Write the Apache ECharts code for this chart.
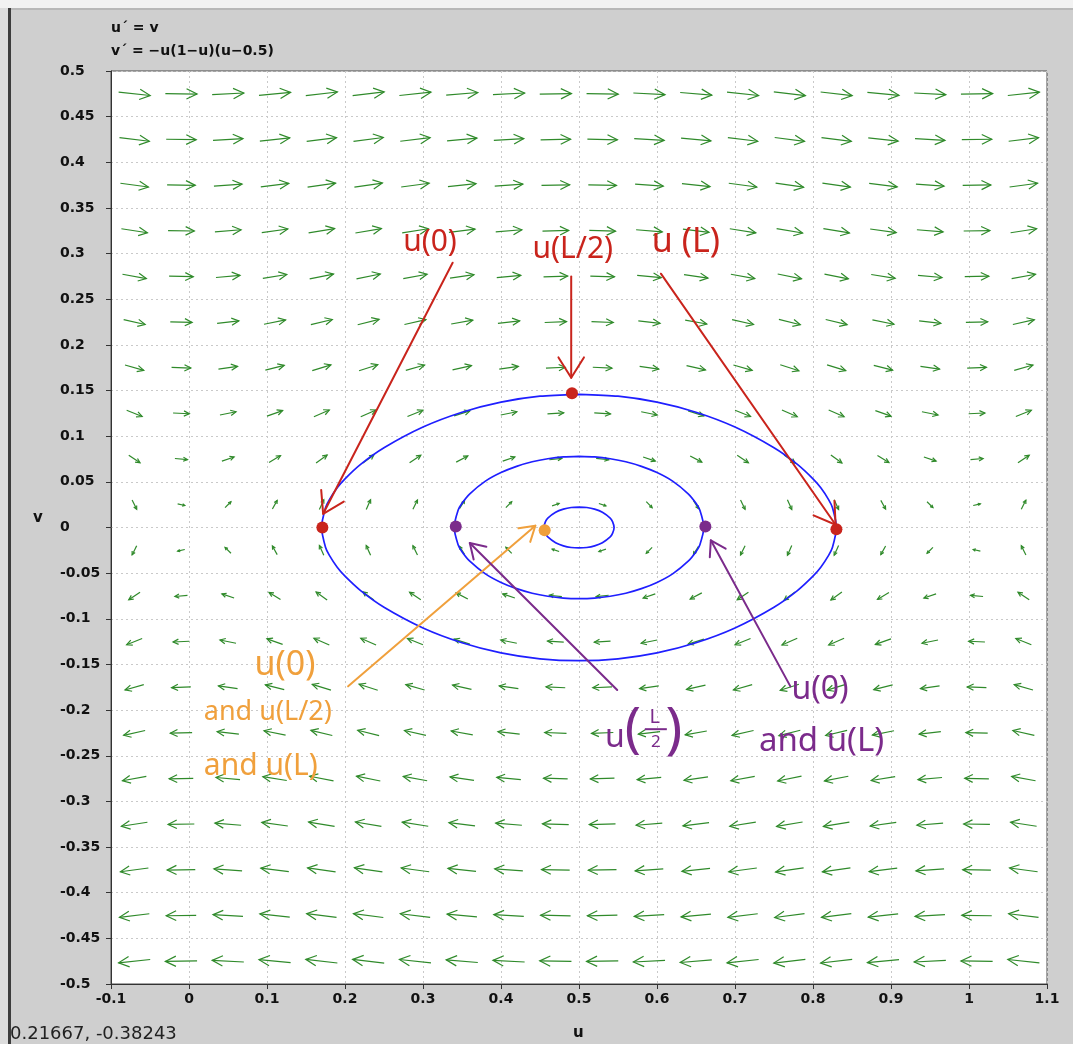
<!DOCTYPE html>
<html>
<head>
<meta charset="utf-8">
<script src="https://cdn.jsdelivr.net/npm/echarts@6/dist/echarts.min.js"></script>
<style>
  html, body { margin: 0; padding: 0; background: #cfcfcf; }
  #chart { width: 1073px; height: 1044px; }
</style>
</head>
<body>
<div id="chart"></div>
<script>
// ---- Axis ticks ----
const uTicks = [-0.1, 0, 0.1, 0.2, 0.3, 0.4, 0.5, 0.6, 0.7, 0.8, 0.9, 1, 1.1];
const vTicks = [-0.5, -0.45, -0.4, -0.35, -0.3, -0.25, -0.2, -0.15, -0.1, -0.05, 0,
                0.05, 0.1, 0.15, 0.2, 0.25, 0.3, 0.35, 0.4, 0.45, 0.5];

// ---- Direction-field sample grid ----
const fieldU = [-0.07, -0.01, 0.05, 0.11, 0.17, 0.23, 0.29, 0.35, 0.41, 0.47,
                0.53, 0.59, 0.65, 0.71, 0.77, 0.83, 0.89, 0.95, 1.01, 1.07];
const fieldV = [0.475, 0.425, 0.375, 0.325, 0.275, 0.225, 0.175, 0.125, 0.075, 0.025,
                -0.025, -0.075, -0.125, -0.175, -0.225, -0.275, -0.325, -0.375, -0.425, -0.475];

// The system shown in the header: u' = v, v' = -u(1-u)(u-0.5)
function rate(u, v) {
  return [v, -u * (1 - u) * (u - 0.5)];
}

// ---- Closed orbits: upper halves (u, v); lower halves are their mirror in v ----
const outerU = [0.17, 0.175, 0.18, 0.19, 0.20, 0.22, 0.25, 0.30, 0.35, 0.40, 0.45, 0.50,
                0.55, 0.60, 0.65, 0.70, 0.75, 0.78, 0.80, 0.81, 0.82, 0.825, 0.83];
const outerV = [0, 0.0216, 0.0306, 0.0435, 0.0533, 0.0691, 0.0873, 0.110, 0.1262, 0.1373, 0.1438, 0.1459,
                0.1438, 0.1373, 0.1262, 0.110, 0.0873, 0.0691, 0.0533, 0.0435, 0.0306, 0.0216, 0];
const middleU = [0.34, 0.345, 0.35, 0.36, 0.38, 0.40, 0.42, 0.44, 0.46, 0.48, 0.50,
                 0.52, 0.54, 0.56, 0.58, 0.60, 0.62, 0.64, 0.65, 0.655, 0.66];
const middleV = [0, 0.0188, 0.0265, 0.0369, 0.0508, 0.0602, 0.0670, 0.0720, 0.0753, 0.0773, 0.0779,
                 0.0773, 0.0753, 0.0720, 0.0670, 0.0602, 0.0508, 0.0369, 0.0265, 0.0188, 0];
const innerU = [0.455, 0.457, 0.46, 0.47, 0.48, 0.49, 0.50, 0.51, 0.52, 0.53, 0.54, 0.543, 0.545];
const innerV = [0, 0.0065, 0.0103, 0.0167, 0.0201, 0.0219, 0.0224, 0.0219, 0.0201, 0.0167, 0.0103, 0.0065, 0];

// ---- Hand-drawn annotations (data coordinates) ----
const redDots = [[0.171, 0.0], [0.491, 0.147], [0.83, -0.002]];
const purpleDots = [[0.342, 0.001], [0.662, 0.001]];
const orangeDots = [[0.456, -0.003]];

const redArrows = [[0.338, 0.290, 0.172, 0.015], [0.490, 0.275, 0.490, 0.164], [0.605, 0.278, 0.829, 0.003]];
const orangeArrows = [[0.204, -0.174, 0.444, 0.002]];
const purpleArrows = [[0.549, -0.178, 0.360, -0.017], [0.771, -0.174, 0.669, -0.014]];

const redLabels = [[0.309, 0.312, 'u(0)'], [0.492, 0.304, 'u(L/2)'], [0.637, 0.312, 'u (L)']];
const orangeLabels = [[0.123, -0.151, 'u(0)'], [0.101, -0.202, 'and u(L/2)'], [0.092, -0.262, 'and u(L)']];
const purpleLabels = [[0.809, -0.178, 'u(0)'], [0.811, -0.235, 'and u(L)']];
const purpleFraction = [[0.578, -0.222, 'u', 'L', '2']];

// ---- Styles ----
const GREEN = '#2f8a2a';
const BLUE = '#1f1fff';
const RED = '#c9241c';
const ORANGE = '#f0a03c';
const PURPLE = '#7b2b8b';
const HAND_FONT = '"Noto Sans", "DejaVu Sans", sans-serif';
const UI_FONT = '"DejaVu Sans", sans-serif';
const redLabelSize = [30, 30, 34];
const orangeLabelSize = [34, 27, 30];
const purpleLabelSize = [32, 33];

function fmtTick(val) {
  return String(+val.toFixed(2));
}

function renderFieldArrow(params, api) {
  const u = api.value(0), v = api.value(1);
  const d = rate(u, v);
  const mag = Math.hypot(d[0], d[1]);
  const p0 = api.coord([u, v]);
  const p1 = api.coord([u + d[0] * 1e-3, v + d[1] * 1e-3]);
  let dx = p1[0] - p0[0], dy = p1[1] - p0[1];
  const n = Math.hypot(dx, dy) || 1;
  dx /= n; dy /= n;
  const len = 46 * Math.sqrt(mag);
  const tail = [p0[0] - dx * len / 2, p0[1] - dy * len / 2];
  const tip = [p0[0] + dx * len / 2, p0[1] + dy * len / 2];
  const h = len * 0.37, a = 26 * Math.PI / 180;
  const c = Math.cos(a), s = Math.sin(a);
  const b1 = [tip[0] - h * (dx * c - dy * s), tip[1] - h * (dy * c + dx * s)];
  const b2 = [tip[0] - h * (dx * c + dy * s), tip[1] - h * (dy * c - dx * s)];
  const st = { stroke: GREEN, lineWidth: 1.2, fill: null };
  return {
    type: 'group',
    children: [
      { type: 'polyline', shape: { points: [tail, tip] }, style: st },
      { type: 'polyline', shape: { points: [b1, tip, b2] }, style: st }
    ]
  };
}

function orbitLoop(us, vs) {
  // upper half left -> right, then lower half right -> left, starting from the top
  const pts = [];
  for (let i = 0; i < us.length; i++) pts.push([us[i], vs[i]]);
  for (let i = us.length - 2; i >= 1; i--) pts.push([us[i], -vs[i]]);
  let top = 0;
  pts.forEach((p, i) => { if (p[1] > pts[top][1]) top = i; });
  const loop = pts.slice(top).concat(pts.slice(0, top));
  loop.push(loop[0]);
  return loop;
}

function orbitSeries(us, vs) {
  return {
    type: 'line',
    data: orbitLoop(us, vs),
    showSymbol: false,
    smooth: 0.25,
    lineStyle: { color: BLUE, width: 1.7 },
    z: 3,
    silent: true
  };
}

function arrowSeries(list, color, headLen) {
  return {
    type: 'custom',
    data: list,
    z: 8,
    silent: true,
    renderItem: function (params, api) {
      const p = api.coord([api.value(0), api.value(1)]);
      const q = api.coord([api.value(2), api.value(3)]);
      let dx = q[0] - p[0], dy = q[1] - p[1];
      const n = Math.hypot(dx, dy) || 1;
      dx /= n; dy /= n;
      const a = 32 * Math.PI / 180, c = Math.cos(a), s = Math.sin(a);
      const b1 = [q[0] - headLen * (dx * c - dy * s), q[1] - headLen * (dy * c + dx * s)];
      const b2 = [q[0] - headLen * (dx * c + dy * s), q[1] - headLen * (dy * c - dx * s)];
      const st = { stroke: color, lineWidth: 2, fill: null, lineCap: 'round', lineJoin: 'round' };
      return {
        type: 'group',
        children: [
          { type: 'polyline', shape: { points: [p, q] }, style: st },
          { type: 'polyline', shape: { points: [b1, q, b2] }, style: st }
        ]
      };
    }
  };
}

function labelSeries(list, color, sizes) {
  return {
    type: 'custom',
    data: list.map(d => [d[0], d[1]]),
    z: 9,
    silent: true,
    renderItem: function (params, api) {
      const item = list[params.dataIndex];
      const p = api.coord([item[0], item[1]]);
      return {
        type: 'text',
        x: p[0], y: p[1],
        style: {
          text: item[2], fill: color,
          font: sizes[params.dataIndex] + 'px ' + HAND_FONT,
          align: 'center', verticalAlign: 'middle'
        }
      };
    }
  };
}

function fractionSeries(list, color) {
  return {
    type: 'custom',
    data: list.map(d => [d[0], d[1]]),
    z: 9,
    silent: true,
    renderItem: function (params, api) {
      const item = list[params.dataIndex];
      const p = api.coord([item[0], item[1]]);
      const x = p[0], y = p[1];
      const t = (txt, ox, oy, size) => ({
        type: 'text', x: x + ox, y: y + oy,
        style: { text: txt, fill: color, font: size + 'px ' + HAND_FONT, align: 'center', verticalAlign: 'middle' }
      });
      return {
        type: 'group',
        children: [
          t(item[2], -25, 8, 32),
          t('(', -7, 0, 54),
          t(item[3], 15, -13, 20),
          { type: 'line', shape: { x1: x + 5, y1: y - 1, x2: x + 27, y2: y - 1 }, style: { stroke: color, lineWidth: 2 } },
          t(item[4], 16, 12, 17),
          t(')', 34, 2, 56)
        ]
      };
    }
  };
}

function dotSeries(list, color) {
  return {
    type: 'scatter',
    data: list,
    symbolSize: 12,
    itemStyle: { color: color, opacity: 1 },
    z: 10,
    silent: true
  };
}

const fieldData = [];
fieldV.forEach(v => fieldU.forEach(u => fieldData.push([u, v])));

const chart = echarts.init(document.getElementById('chart'), null, { renderer: 'canvas' });

chart.setOption({
  backgroundColor: '#cfcfcf',
  animation: false,
  grid: {
    left: 111, top: 71, width: 936, height: 913,
    show: true, backgroundColor: '#ffffff', borderColor: '#4a4a4a', borderWidth: 1
  },
  xAxis: {
    type: 'value',
    min: uTicks[0], max: uTicks[uTicks.length - 1], interval: 0.1,
    axisLine: { onZero: false, lineStyle: { color: '#333', width: 1 } },
    axisTick: { show: true, length: 5, lineStyle: { color: '#333' } },
    splitLine: { show: true, lineStyle: { color: '#c9c9c9', type: [2, 3], width: 1 } },
    axisLabel: {
      margin: 8, color: '#111', fontSize: 14, fontWeight: 'bold',
      fontFamily: UI_FONT,
      formatter: fmtTick
    }
  },
  yAxis: {
    type: 'value',
    min: vTicks[0], max: vTicks[vTicks.length - 1], interval: 0.05,
    axisLine: { onZero: false, lineStyle: { color: '#333', width: 1 } },
    axisTick: { show: true, length: 5, lineStyle: { color: '#333' } },
    splitLine: { show: true, lineStyle: { color: '#c9c9c9', type: [2, 3], width: 1 } },
    axisLabel: {
      margin: 51, align: 'left', color: '#111', fontSize: 14, fontWeight: 'bold',
      fontFamily: UI_FONT,
      formatter: fmtTick
    }
  },
  graphic: [
    { type: 'rect', left: 0, top: 0, shape: { width: 1073, height: 8 }, style: { fill: '#f2f2f2' }, silent: true },
    { type: 'rect', left: 0, top: 8, shape: { width: 1073, height: 2 }, style: { fill: '#b8b8b8' }, silent: true },
    { type: 'rect', left: 0, top: 8, shape: { width: 8, height: 1036 }, style: { fill: '#dcdcdc' }, silent: true },
    { type: 'rect', left: 8, top: 8, shape: { width: 3, height: 1036 }, style: { fill: '#3c3c3c' }, silent: true },
    {
      type: 'text', left: 111, top: 21,
      style: { text: 'u\u00b4 = v', fill: '#111', font: 'bold 14px ' + UI_FONT }
    },
    {
      type: 'text', left: 111, top: 44,
      style: { text: 'v\u00b4 = \u2212u(1\u2212u)(u\u22120.5)', fill: '#111', font: 'bold 14px ' + UI_FONT }
    },
    {
      type: 'text', left: 573, top: 1026,
      style: { text: 'u', fill: '#111', font: 'bold 15px ' + UI_FONT }
    },
    {
      type: 'text', left: 33, top: 511,
      style: { text: 'v', fill: '#111', font: 'bold 15px ' + UI_FONT }
    },
    {
      type: 'text', left: 10, top: 1025,
      style: { text: '0.21667, -0.38243', fill: '#222', font: '18px ' + UI_FONT }
    }
  ],
  series: [
    {
      type: 'custom',
      data: fieldData,
      renderItem: renderFieldArrow,
      z: 2,
      silent: true
    },
    orbitSeries(outerU, outerV),
    orbitSeries(middleU, middleV),
    orbitSeries(innerU, innerV),
    arrowSeries(redArrows, RED, 24),
    arrowSeries(orangeArrows, ORANGE, 17),
    arrowSeries(purpleArrows, PURPLE, 17),
    labelSeries(redLabels, RED, redLabelSize),
    labelSeries(orangeLabels, ORANGE, orangeLabelSize),
    labelSeries(purpleLabels, PURPLE, purpleLabelSize),
    fractionSeries(purpleFraction, PURPLE),
    dotSeries(redDots, RED),
    dotSeries(purpleDots, PURPLE),
    dotSeries(orangeDots, ORANGE)
  ]
});
</script>
</body>
</html>
